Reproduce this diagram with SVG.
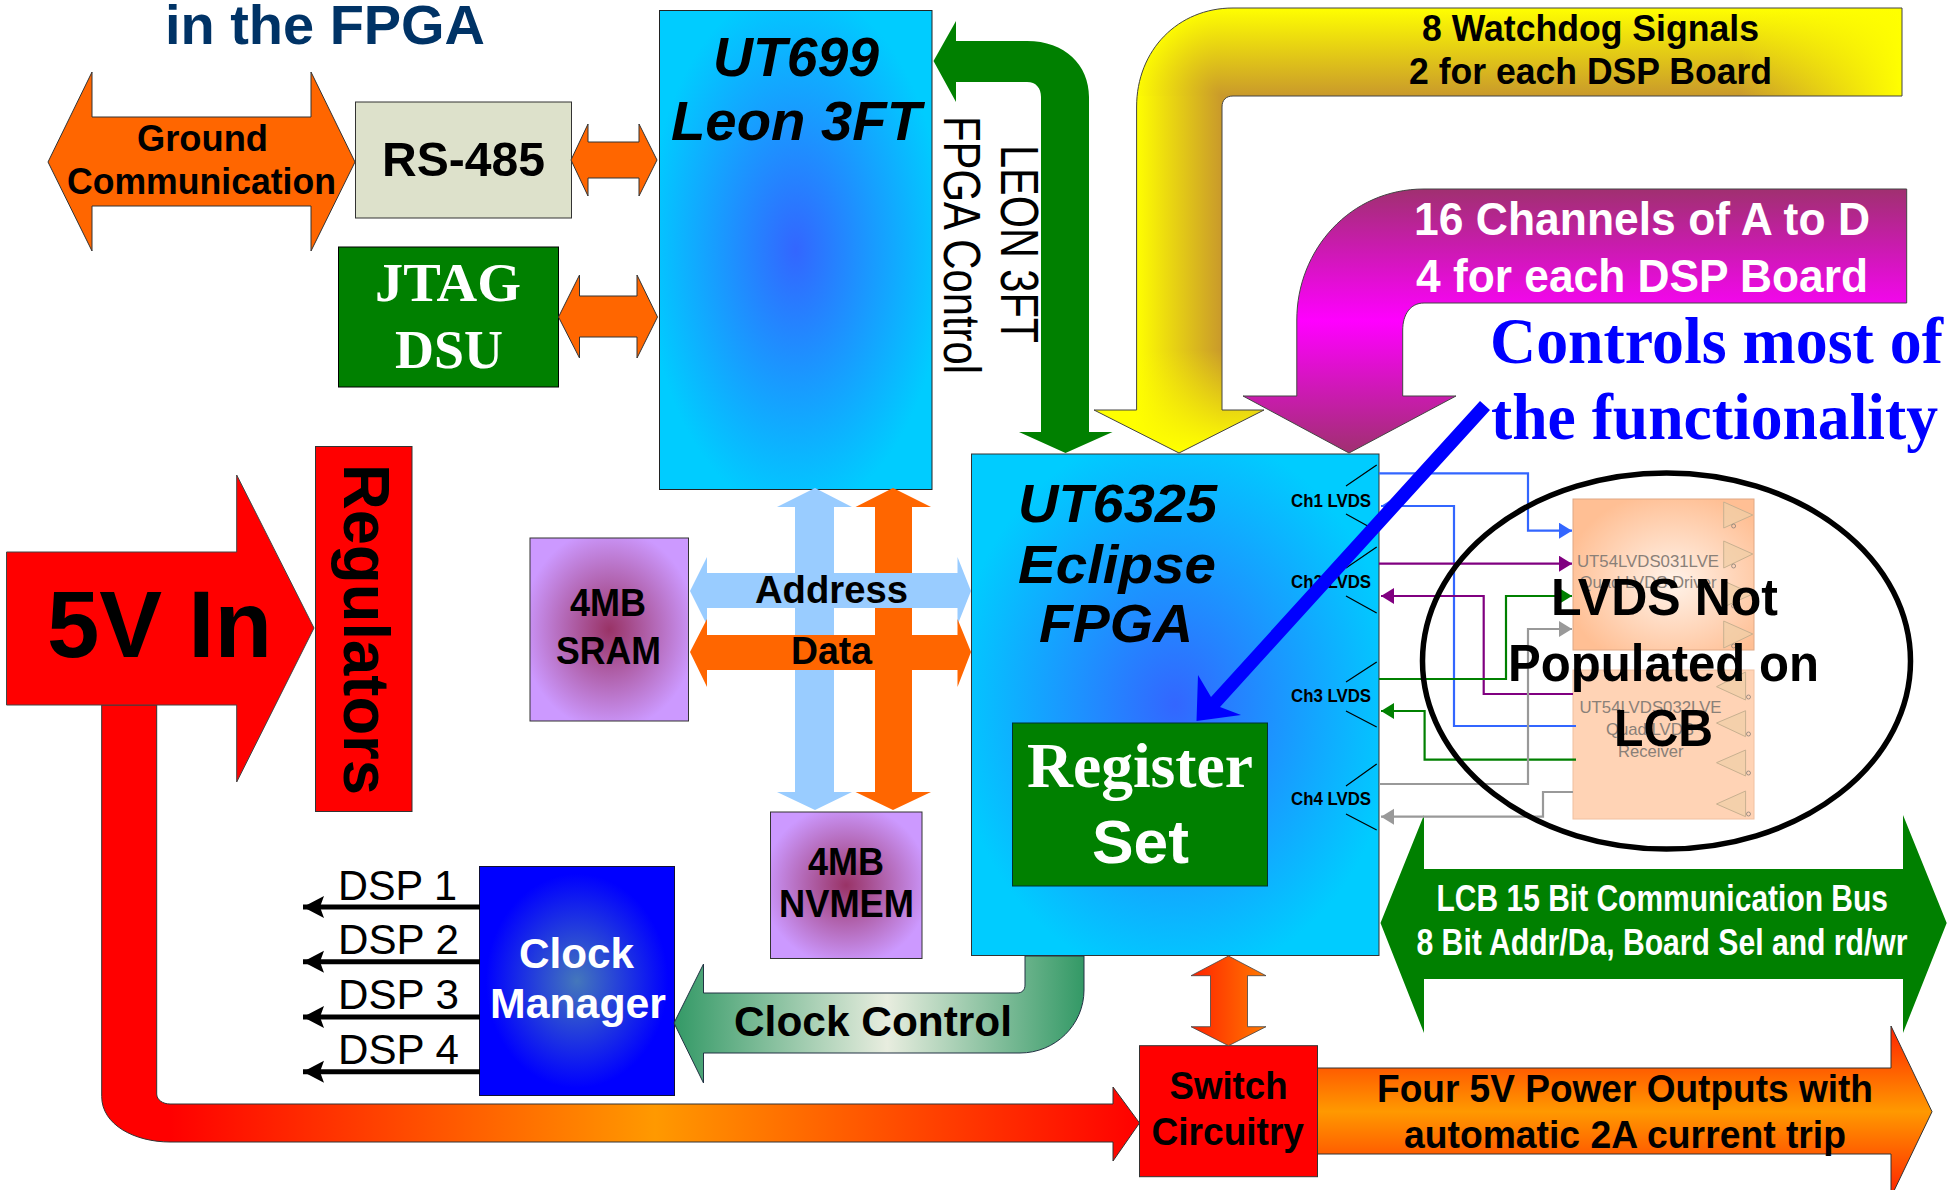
<svg xmlns="http://www.w3.org/2000/svg" width="1951" height="1190" viewBox="0 0 1951 1190">
<style>
text{font-family:"Liberation Sans",Arial,sans-serif;fill:#000}
.b{font-weight:700}
.s{font-family:"Liberation Serif","Times New Roman",serif;font-weight:700}
.bi{font-weight:700;font-style:italic}
.w{fill:#fff}
.ln{stroke:#333;stroke-width:1}
.or{fill:#f60}
.gr{fill:#008000}
.wire{fill:none;stroke-width:2.2}
.sl{stroke:#000;stroke-width:1.2;fill:none}
.dsp{stroke:#000;stroke-width:5;fill:none}
.tri{fill:#f0cfa6;fill-opacity:.7;stroke:#c8b090;stroke-width:1}
.bub{fill:none;stroke:#8a8078;stroke-width:.8}
.ic{fill:#8a8078;font-size:17px}
</style>
<defs>
<radialGradient id="cy" cx=".5" cy=".5" r=".55"><stop offset="0" stop-color="#3366ff"/><stop offset="1" stop-color="#00ccff"/></radialGradient>
<radialGradient id="mem" cx=".5" cy=".5" r=".55"><stop offset="0" stop-color="#993366"/><stop offset="1" stop-color="#cc99ff"/></radialGradient>
<radialGradient id="clk" cx=".5" cy=".5" r=".55"><stop offset="0" stop-color="#4477bb"/><stop offset=".85" stop-color="#0000ff"/></radialGradient>
<radialGradient id="pe" cx=".55" cy=".55" r=".6"><stop offset="0" stop-color="#fff3ea"/><stop offset="1" stop-color="#ffbf94"/></radialGradient>
<linearGradient id="clkc" gradientUnits="userSpaceOnUse" x1="674" y1="0" x2="1084" y2="0"><stop offset="0" stop-color="#339966"/><stop offset=".52" stop-color="#e8eddf"/><stop offset="1" stop-color="#339966"/></linearGradient>
<linearGradient id="tail" gradientUnits="userSpaceOnUse" x1="170" y1="0" x2="1140" y2="0"><stop offset="0" stop-color="#f00"/><stop offset=".5" stop-color="#f90"/><stop offset="1" stop-color="#f00"/></linearGradient>
<linearGradient id="pow" gradientUnits="userSpaceOnUse" x1="0" y1="1026" x2="0" y2="1197"><stop offset="0" stop-color="#ff2200"/><stop offset=".5" stop-color="#ff9900"/><stop offset="1" stop-color="#ff2200"/></linearGradient>
<linearGradient id="sw"><stop offset="0" stop-color="#ff2200"/><stop offset="1" stop-color="#ff7a00"/></linearGradient>
<linearGradient id="mag" gradientUnits="userSpaceOnUse" x1="0" y1="189" x2="0" y2="453"><stop offset="0" stop-color="#a03070"/><stop offset=".5" stop-color="#ff00ff"/><stop offset="1" stop-color="#a03070"/></linearGradient>
<linearGradient id="yh" gradientUnits="userSpaceOnUse" x1="0" y1="8" x2="0" y2="96"><stop offset="0" stop-color="#ffff00"/><stop offset="1" stop-color="#c9992b"/></linearGradient>
<linearGradient id="yv" gradientUnits="userSpaceOnUse" x1="1136" y1="0" x2="1222" y2="0"><stop offset="0" stop-color="#ffff00"/><stop offset="1" stop-color="#c9992b"/></linearGradient>
<radialGradient id="yc" gradientUnits="userSpaceOnUse" cx="1222" cy="96" r="88"><stop offset="0" stop-color="#c9992b"/><stop offset="1" stop-color="#ffff00"/></radialGradient>
<linearGradient id="yb" gradientUnits="userSpaceOnUse" x1="0" y1="350" x2="0" y2="450"><stop offset="0" stop-color="#ffff00" stop-opacity="0"/><stop offset="1" stop-color="#ffff00"/></linearGradient>
<linearGradient id="yr" gradientUnits="userSpaceOnUse" x1="1740" y1="0" x2="1902" y2="0"><stop offset="0" stop-color="#ffff00" stop-opacity="0"/><stop offset="1" stop-color="#ffff00"/></linearGradient>
<clipPath id="yclip"><path d="M1902 8H1233C1178 8 1136.600 50 1136.600 107V410H1094L1179 453L1264 410H1222V107C1222 100 1226 96 1233 96H1902Z"/></clipPath>
<marker id="mb" markerUnits="userSpaceOnUse" markerWidth="14" markerHeight="18" refX="13" refY="8" orient="auto"><path d="M0 0L13 8L0 16Z" fill="#3366ff"/></marker>
<marker id="mp" markerUnits="userSpaceOnUse" markerWidth="14" markerHeight="18" refX="13" refY="8" orient="auto"><path d="M0 0L13 8L0 16Z" fill="#800080"/></marker>
<marker id="mg" markerUnits="userSpaceOnUse" markerWidth="14" markerHeight="18" refX="13" refY="8" orient="auto"><path d="M0 0L13 8L0 16Z" fill="#008000"/></marker>
<marker id="my" markerUnits="userSpaceOnUse" markerWidth="14" markerHeight="18" refX="13" refY="8" orient="auto"><path d="M0 0L13 8L0 16Z" fill="#999"/></marker>
<marker id="mk" markerUnits="userSpaceOnUse" markerWidth="22" markerHeight="24" refX="21" refY="11" orient="auto"><path d="M0 0L21 11L0 22L4 11Z" fill="#000"/></marker>
</defs>
<rect width="1951" height="1190" fill="#fff"/>

<g id="title"><text class="b" x="165" y="44" font-size="56" style="fill:#003366" textLength="320" lengthAdjust="spacingAndGlyphs">in the FPGA</text></g>

<g id="ground-communication">
<path class="or ln" d="M48 162L92 72V117H311V72L355 162L311 251V206H92V251Z"/>
<text class="b" x="137" y="151" font-size="37" textLength="131" lengthAdjust="spacingAndGlyphs">Ground</text>
<text class="b" x="67" y="194" font-size="37" textLength="269" lengthAdjust="spacingAndGlyphs">Communication</text>
</g>
<g id="rs485"><rect class="ln" x="355.500" y="102" width="216" height="116" fill="#dde1cb"/>
<text class="b" x="382" y="176" font-size="49" textLength="163" lengthAdjust="spacingAndGlyphs">RS-485</text></g>
<g id="jtag"><rect x="338.500" y="247" width="220" height="140" fill="#008000" stroke="#000"/>
<text class="s w" x="375" y="301" font-size="55" textLength="146" lengthAdjust="spacingAndGlyphs">JTAG</text>
<text class="s w" x="395" y="368" font-size="55" textLength="108" lengthAdjust="spacingAndGlyphs">DSU</text></g>

<g id="ut699"><rect x="659.500" y="10.500" width="272.500" height="479" fill="url(#cy)" stroke="#222"/>
<text class="bi" x="713" y="76" font-size="56" textLength="166" lengthAdjust="spacingAndGlyphs">UT699</text>
<text class="bi" x="671" y="140" font-size="56" textLength="250" lengthAdjust="spacingAndGlyphs">Leon 3FT</text></g>

<g id="ut6325"><rect x="971.500" y="454" width="407.500" height="501.500" fill="url(#cy)" stroke="#333"/>
<text class="bi" x="1018" y="522" font-size="53" textLength="199" lengthAdjust="spacingAndGlyphs">UT6325</text>
<text class="bi" x="1018" y="583" font-size="53" textLength="198" lengthAdjust="spacingAndGlyphs">Eclipse</text>
<text class="bi" x="1039" y="642" font-size="53" textLength="154" lengthAdjust="spacingAndGlyphs">FPGA</text>
<text class="b" x="1291" y="506.700" font-size="18" textLength="80" lengthAdjust="spacingAndGlyphs">Ch1 LVDS</text>
<text class="b" x="1291" y="587.700" font-size="18" textLength="80" lengthAdjust="spacingAndGlyphs">Ch2 LVDS</text>
<text class="b" x="1291" y="701.700" font-size="18" textLength="80" lengthAdjust="spacingAndGlyphs">Ch3 LVDS</text>
<text class="b" x="1291" y="804.700" font-size="18" textLength="80" lengthAdjust="spacingAndGlyphs">Ch4 LVDS</text>
<path class="sl" d="M1346 486L1376.700 465M1346 514L1376.700 531M1346 568L1376.700 547M1346 596L1376.700 613M1346 682L1376.700 662M1346 711L1376.700 727M1346 786L1376.700 764M1346 814L1376.700 830"/>
</g>
<g id="register-set"><rect x="1012.500" y="723" width="255" height="163" fill="#008000" stroke="#033"/>
<text class="s w" x="1027" y="787" font-size="64" textLength="226" lengthAdjust="spacingAndGlyphs">Register</text>
<text class="b w" x="1092" y="863" font-size="62" textLength="97" lengthAdjust="spacingAndGlyphs">Set</text></g>

<g id="sram"><rect class="ln" x="530" y="538" width="158.500" height="183" fill="url(#mem)"/>
<text class="b" x="570" y="616" font-size="39" textLength="76" lengthAdjust="spacingAndGlyphs">4MB</text>
<text class="b" x="556" y="664" font-size="39" textLength="105" lengthAdjust="spacingAndGlyphs">SRAM</text></g>
<g id="nvmem"><rect class="ln" x="770.500" y="812" width="151.500" height="146.500" fill="url(#mem)"/>
<text class="b" x="808" y="875" font-size="39" textLength="76" lengthAdjust="spacingAndGlyphs">4MB</text>
<text class="b" x="779" y="917" font-size="39" textLength="135" lengthAdjust="spacingAndGlyphs">NVMEM</text></g>
<g id="clock-manager"><rect x="479.500" y="866.500" width="195" height="229" fill="url(#clk)" stroke="#113"/>
<text class="b w" x="519" y="968" font-size="43" textLength="115" lengthAdjust="spacingAndGlyphs">Clock</text>
<text class="b w" x="490" y="1018" font-size="43" textLength="176" lengthAdjust="spacingAndGlyphs">Manager</text></g>

<g id="dsp-labels">
<text x="338" y="900" font-size="42" textLength="119" lengthAdjust="spacingAndGlyphs">DSP 1</text>
<text x="338" y="954" font-size="42" textLength="121" lengthAdjust="spacingAndGlyphs">DSP 2</text>
<text x="338" y="1009" font-size="42" textLength="121" lengthAdjust="spacingAndGlyphs">DSP 3</text>
<text x="338" y="1064" font-size="42" textLength="121" lengthAdjust="spacingAndGlyphs">DSP 4</text>
</g>

<g id="regulators"><rect x="315.500" y="446.500" width="96.500" height="365" fill="#f00" stroke="#333"/>
<text class="b" transform="translate(344 464) rotate(90)" font-size="65" textLength="331" lengthAdjust="spacingAndGlyphs">Regulators</text></g>

<g id="peach-driver"><rect x="1573" y="499" width="181" height="151" fill="url(#pe)" stroke="#e0a884"/>
<path class="tri" d="M1723.700 502L1752.800 515L1723.700 528ZM1723.700 541L1752.800 554L1723.700 568ZM1723.700 581L1752.800 594L1723.700 607ZM1723.700 621L1752.800 634L1723.700 648Z"/>
<circle class="bub" cx="1733.600" cy="526" r="2"/><circle class="bub" cx="1733.600" cy="566" r="2"/><circle class="bub" cx="1733.600" cy="606" r="2"/><circle class="bub" cx="1733.600" cy="646" r="2"/>
<text class="ic" x="1577" y="566.700" textLength="142" lengthAdjust="spacingAndGlyphs">UT54LVDS031LVE</text>
<text class="ic" x="1579.500" y="588" textLength="137" lengthAdjust="spacingAndGlyphs">Quad LVDS Driver</text></g>
<g id="peach-receiver"><rect x="1573" y="670" width="181" height="149" fill="#ffd3b5" stroke="#f0c0a0"/>
<path class="tri" d="M1716.500 686.700L1745.600 672V700ZM1716.500 723L1745.600 710.700V736.700ZM1716.500 762.700L1745.600 750V776ZM1716.500 804L1745.600 791V816.700Z"/>
<circle class="bub" cx="1748.500" cy="697" r="2"/><circle class="bub" cx="1748.500" cy="734" r="2"/><circle class="bub" cx="1748.500" cy="773" r="2"/><circle class="bub" cx="1748.500" cy="814" r="2"/>
<text class="ic" x="1579.500" y="712.700" textLength="142" lengthAdjust="spacingAndGlyphs">UT54LVDS032LVE</text>
<text class="ic" x="1606" y="735" textLength="88" lengthAdjust="spacingAndGlyphs">Quad LVDS</text>
<text class="ic" x="1618" y="756.700" textLength="65.500" lengthAdjust="spacingAndGlyphs">Receiver</text></g>

<g id="watchdog-arrow">
<g clip-path="url(#yclip)">
<rect x="1222" y="8" width="680" height="88" fill="url(#yh)"/>
<rect x="1090" y="96" width="180" height="360" fill="url(#yv)"/>
<rect x="1130" y="8" width="92" height="88" fill="url(#yc)"/>
<rect x="1090" y="340" width="180" height="116" fill="url(#yb)"/>
<rect x="1740" y="8" width="162" height="88" fill="url(#yr)"/>
</g>
<path d="M1902 8H1233C1178 8 1136.600 50 1136.600 107V410H1094L1179 453L1264 410H1222V107C1222 100 1226 96 1233 96H1902Z" fill="none" stroke="#444"/>
<text class="b" x="1422" y="41" font-size="37" textLength="337" lengthAdjust="spacingAndGlyphs">8 Watchdog Signals</text>
<text class="b" x="1409" y="84" font-size="37" textLength="363" lengthAdjust="spacingAndGlyphs">2 for each DSP Board</text>
</g>
<g id="channels-arrow">
<path d="M1906.700 189H1424C1350 189 1296.800 250 1296.800 320V396H1243L1349 453L1456 396H1402.700V330C1402.700 315 1410 303 1424 303H1906.700Z" fill="url(#mag)" stroke="#444"/>
<text class="b w" x="1414" y="235" font-size="47" textLength="456" lengthAdjust="spacingAndGlyphs">16 Channels of A to D</text>
<text class="b w" x="1416" y="292" font-size="47" textLength="452" lengthAdjust="spacingAndGlyphs">4 for each DSP Board</text>
</g>
<g id="controls-note">
<text class="s" x="1490" y="363" font-size="66" style="fill:#00f" textLength="453" lengthAdjust="spacingAndGlyphs">Controls most of</text>
<text class="s" x="1491" y="439" font-size="66" style="fill:#00f" textLength="447" lengthAdjust="spacingAndGlyphs">the functionality</text>
</g>

<g id="clock-control">
<path d="M674 1023L703.500 964V993H1017C1022 993 1025 990 1025 985V956H1084V990C1084 1025 1055 1053 1020 1053H703.500V1083Z" fill="url(#clkc)" stroke="#234"/>
<text class="b" x="734" y="1036" font-size="43" textLength="278" lengthAdjust="spacingAndGlyphs">Clock Control</text>
</g>
<g id="switch"><rect x="1139.500" y="1045.700" width="178" height="131" fill="#f00" stroke="#333"/>
<text class="b" x="1169.500" y="1099" font-size="39" textLength="118" lengthAdjust="spacingAndGlyphs">Switch</text>
<text class="b" x="1151.500" y="1145" font-size="39" textLength="152.500" lengthAdjust="spacingAndGlyphs">Circuitry</text></g>
<g id="power-out">
<path d="M1317.500 1068H1891V1026L1932 1111.700L1891 1197V1154H1317.500Z" fill="url(#pow)" stroke="#333"/>
<text class="b" x="1377" y="1101.500" font-size="39" textLength="496" lengthAdjust="spacingAndGlyphs">Four 5V Power Outputs with</text>
<text class="b" x="1404" y="1148" font-size="39" textLength="442" lengthAdjust="spacingAndGlyphs">automatic 2A current trip</text>
</g>
<g id="lcb-bus">
<path class="gr" d="M1380.500 923L1424 815V869H1903V815L1946.700 923L1903 1033V979H1424V1033Z"/>
<text class="b w" x="1436.500" y="911" font-size="37" textLength="451.500" lengthAdjust="spacingAndGlyphs">LCB 15 Bit Communication Bus</text>
<text class="b w" x="1416.500" y="955" font-size="37" textLength="491" lengthAdjust="spacingAndGlyphs">8 Bit Addr/Da, Board Sel and rd/wr</text>
</g>

<g id="connectors">
<path d="M1089 432H1112.500L1065.500 453L1019 432H1041V97C1041 88 1036 82 1027 82H956V102L933.500 61L956 21V41H1027C1065 41 1089 65 1089 97Z" fill="#008000"/>
<text transform="translate(1000.500 145) rotate(90)" font-size="53" textLength="198" lengthAdjust="spacingAndGlyphs">LEON 3FT</text>
<text transform="translate(943.500 116) rotate(90)" font-size="52" textLength="258" lengthAdjust="spacingAndGlyphs">FPGA Control</text>

<path class="or ln" d="M571 160L588 124V142H639V124L657 160L639 196V178H588V196Z"/>
<path class="or ln" d="M558.500 317L579.500 275V296H637V275L657.500 317L637 358V337H579.500V358Z"/>

<path fill="#99ccff" d="M815 488L852 507H834V792H852L815 810L777 792H795V507H777Z"/>
<path class="or" d="M893 488L931 507H912V792H931L893 810L855.500 792H875V507H855.500Z"/>
<path fill="#99ccff" d="M690 591L707 557V573H957.500V557L971 591L957.500 625V608H707V625Z"/>
<path class="or" d="M690 652L707 619V635H957.500V619L971 652L957.500 687V670H707V687Z"/>
<text class="b" x="755" y="603" font-size="39" textLength="153" lengthAdjust="spacingAndGlyphs">Address</text>
<text class="b" x="791" y="664" font-size="39" textLength="81" lengthAdjust="spacingAndGlyphs">Data</text>

<path d="M1228.500 956L1266 975.700H1247.500V1026.700H1266L1228.500 1045.700L1191 1026.700H1210.500V975.700H1191Z" fill="url(#sw)" stroke="#444" stroke-width=".8"/>

<path class="dsp" marker-end="url(#mk)" d="M480 907H303"/>
<path class="dsp" marker-end="url(#mk)" d="M480 961.700H303"/>
<path class="dsp" marker-end="url(#mk)" d="M480 1017H303"/>
<path class="dsp" marker-end="url(#mk)" d="M480 1071.700H303"/>

<path d="M101.700 705V1096.500C101.700 1125 135 1142 170 1142H1113V1161L1139.500 1123L1113 1087V1104H170C163 1104 156.700 1100 156.700 1094V705Z" fill="url(#tail)" stroke="#333"/>
<path d="M6.500 552H236.700V475L314 628L236.700 782V705H6.500Z" fill="#f00" stroke="#444"/>
<text class="b" x="47" y="657" font-size="95" textLength="225" lengthAdjust="spacingAndGlyphs">5V In</text>

<path class="wire" stroke="#3366ff" marker-end="url(#mb)" d="M1379 473.300H1528V530.700H1572"/>
<path class="wire" stroke="#3366ff" marker-end="url(#mb)" d="M1576 726H1454V506H1381"/>
<path class="wire" stroke="#800080" marker-end="url(#mp)" d="M1379 563.700H1572"/>
<path class="wire" stroke="#800080" marker-end="url(#mp)" d="M1573 694H1483.700V596H1381"/>
<path class="wire" stroke="#008000" marker-end="url(#mg)" d="M1379 679H1506V596H1572"/>
<path class="wire" stroke="#008000" marker-end="url(#mg)" d="M1576 759.700H1424.600V711H1381"/>
<path class="wire" stroke="#999" marker-end="url(#my)" d="M1379 784H1528V629H1572"/>
<path class="wire" stroke="#999" marker-end="url(#my)" d="M1573 792H1543V816.700H1381"/>

<path fill="#00f" d="M1480 401L1490 410L1220 707L1241 715L1196.500 721L1198 675L1211 697Z"/>
</g>

<g id="lcb-note">
<ellipse cx="1666.500" cy="661" rx="244" ry="188" fill="none" stroke="#000" stroke-width="5.500"/>
<text class="b" x="1551" y="615" font-size="52" textLength="227" lengthAdjust="spacingAndGlyphs">LVDS Not</text>
<text class="b" x="1508" y="680.700" font-size="52" textLength="311" lengthAdjust="spacingAndGlyphs">Populated on</text>
<text class="b" x="1614" y="746" font-size="52" textLength="99" lengthAdjust="spacingAndGlyphs">LCB</text>
</g>
</svg>
